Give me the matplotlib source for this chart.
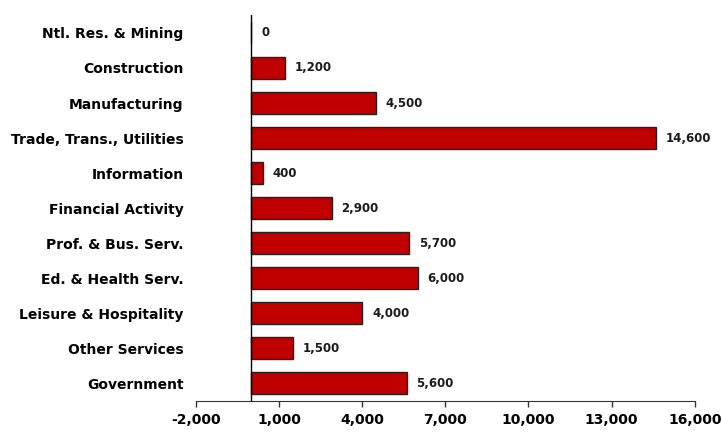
import numpy as np
import matplotlib.pyplot as plt

# Job change by sector
sectors = ["Ntl. Res. & Mining", "Construction", "Manufacturing",
           "Trade, Trans., Utilities", "Information", "Financial Activity",
           "Prof. & Bus. Serv.", "Ed. & Health Serv.", "Leisure & Hospitality",
           "Other Services", "Government"]
jobs = [0, 1200, 4500, 14600, 400, 2900, 5700, 6000, 4000, 1500, 5600]
xticks = [-2000, 1000, 4000, 7000, 10000, 13000, 16000]

fig = plt.figure(figsize=(7.22, 4.32), dpi=100)
ax = fig.add_axes([0.2715, 0.0718, 0.6907, 0.8932])

y = np.arange(len(sectors))
ax.barh(y, jobs, height=0.63, color="#C00000", edgecolor="#222222", linewidth=1)

# data labels
for yi, v in zip(y, jobs):
    ax.annotate(f"{v:,}", (v, yi), xytext=(7, 0), textcoords="offset points",
                va="center", ha="left", fontsize=8.5, fontweight="bold", color="#1a1a1a")

ax.axvline(0, color="black", linewidth=1)

ax.set_xlim(-2000, 16000)
ax.set_ylim(len(sectors) - 0.49, -0.51)
ax.set_xticks(xticks)
ax.set_xticklabels([f"{t:,}" for t in xticks], fontsize=10, fontweight="bold")
ax.set_yticks(y)
ax.set_yticklabels(sectors, fontsize=10, fontweight="bold")

ax.tick_params(axis="y", length=0, pad=9)
ax.tick_params(axis="x", length=4, width=1, color="#333333", pad=5)

for s in ["top", "right", "left"]:
    ax.spines[s].set_visible(False)
ax.spines["bottom"].set_color("#333333")

fig.savefig("out.png", dpi=100)
